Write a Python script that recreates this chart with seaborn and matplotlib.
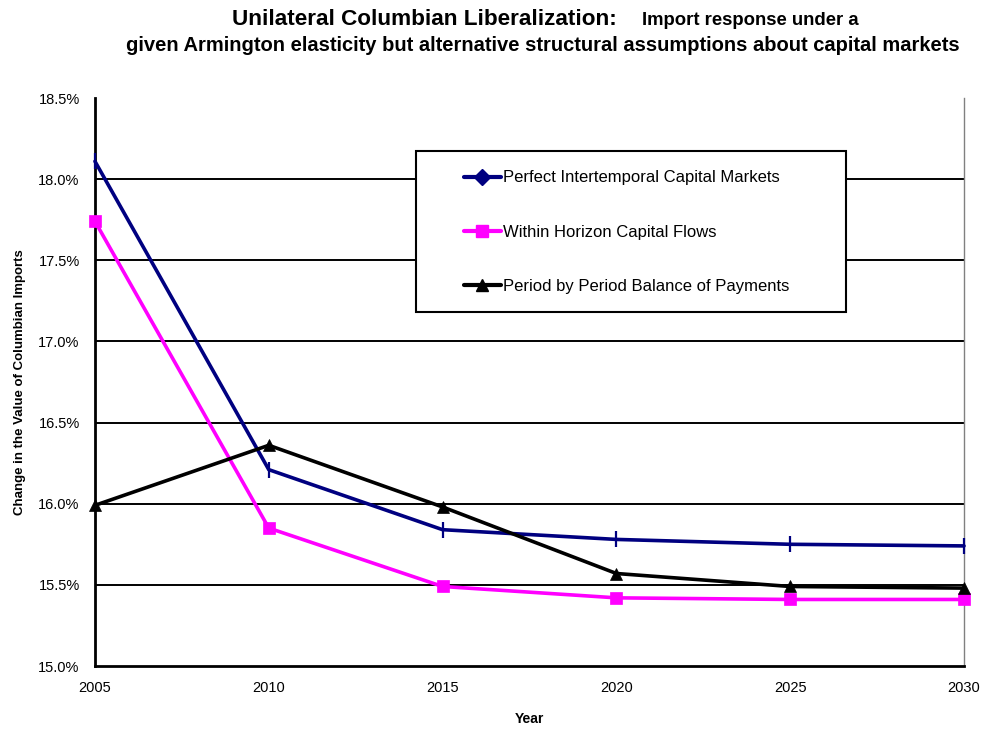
import pandas as pd
import seaborn as sns
from matplotlib import pyplot as plt
from matplotlib.lines import Line2D
from matplotlib.patches import Rectangle

years = [2005, 2010, 2015, 2020, 2025, 2030]
perfect = [18.11, 16.21, 15.84, 15.78, 15.75, 15.74]
within = [17.74, 15.85, 15.49, 15.42, 15.41, 15.41]
period = [15.99, 16.36, 15.98, 15.57, 15.49, 15.48]

names = ["Perfect Intertemporal Capital Markets",
         "Within Horizon Capital Flows",
         "Period by Period Balance of Payments"]
colors = ["#000080", "#FF00FF", "#000000"]
plot_markers = ["|", "s", "^"]
legend_markers = ["D", "s", "^"]
yticks = [15.0, 15.5, 16.0, 16.5, 17.0, 17.5, 18.0, 18.5]

sns.set_style("white")
plt.rcParams["font.family"] = ["Liberation Sans", "DejaVu Sans"]
plt.rcParams["text.color"] = "black"
plt.rcParams["axes.labelcolor"] = "black"

fig = plt.figure(figsize=(9.84, 7.33), dpi=100)
ax = fig.add_axes([0.0965, 0.0914, 0.8832, 0.7749])

for vals, name, c, m in zip([perfect, within, period], names, colors, plot_markers):
    df = pd.DataFrame({"Year": years, "Value": vals})
    sns.lineplot(data=df, x="Year", y="Value", ax=ax, color=c, lw=2.6,
                 marker=m, markersize=11 if m == "|" else 9,
                 markeredgewidth=1.6 if m == "|" else 0.5,
                 markeredgecolor=c, label=name, legend=False, zorder=3,
                 clip_on=False)

ax.set_xlim(2005, 2030)
ax.set_ylim(15.0, 18.5)
ax.set_xticks(years)
ax.set_yticks(yticks)
ax.set_yticklabels([f"{v:.1f}%" for v in yticks])
for v in yticks[1:-1]:
    ax.axhline(v, color="black", lw=1.4, zorder=1)

ax.tick_params(axis="both", direction="out", length=5, width=1.5, colors="black",
               labelsize=10.5, pad=6)
for s in ["left", "bottom"]:
    ax.spines[s].set_color("black")
    ax.spines[s].set_linewidth(2)
ax.spines["top"].set_visible(False)
ax.spines["right"].set_color("#808080")
ax.spines["right"].set_linewidth(1)

ax.set_xlabel("Year", fontsize=10, fontweight="bold", labelpad=12)
ax.set_ylabel("Change in the Value of Columbian Imports", fontsize=9.5,
              fontweight="bold", labelpad=9)

# legend box drawn separately (wider horizontal padding than matplotlib allows)
ax.add_patch(Rectangle((0.369, 0.623), 0.495, 0.284, transform=ax.transAxes,
                       facecolor="white", edgecolor="black", lw=1.5, zorder=4))
handles = [Line2D([0], [0], color=c, lw=3, marker=m, markersize=8 if m == "D" else 9,
                  markeredgecolor=c) for c, m in zip(colors, legend_markers)]
leg = ax.legend(handles, names, loc="center left", bbox_to_anchor=(0.4246, 0.764),
                fontsize=12, frameon=False, labelspacing=2.35, handlelength=2.2,
                handletextpad=0.15, borderpad=0, borderaxespad=0)
leg.set_zorder(5)

fig.text(0.2358, 0.966, "Unilateral Columbian Liberalization:", fontsize=16.2,
         fontweight="bold", ha="left", va="baseline")
fig.text(0.6524, 0.966, "Import response under a", fontsize=13.3,
         fontweight="bold", ha="left", va="baseline")
fig.text(0.5513, 0.930, "given Armington elasticity but alternative structural assumptions about capital markets",
         fontsize=14.5, fontweight="bold", ha="center", va="baseline")

fig.savefig("out.png", dpi=100)
